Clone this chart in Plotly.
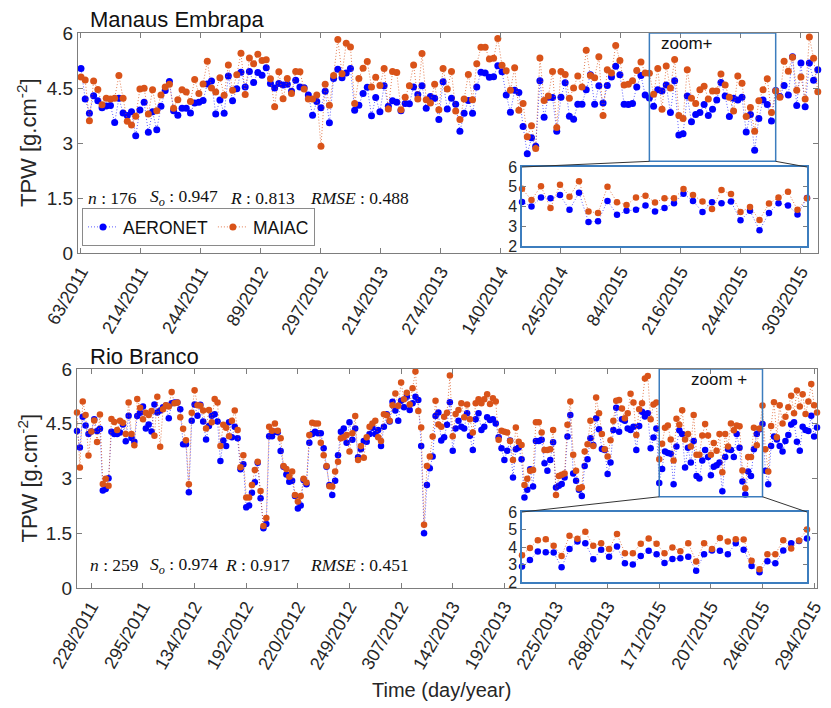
import plotly.graph_objects as go

W, H = 831, 708
BLUE = "#0000FF"
ORANGE = "#D95319"
BLUE_LINE = "rgba(40,40,255,0.75)"
ORANGE_LINE = "rgba(217,83,25,0.75)"
FRAME = "#3C7DBE"
AXIS = "#7d7d7d"
TXT = "#262626"
SANS = "Liberation Sans, Arial, sans-serif"
SERIF = "Liberation Serif, Times New Roman, serif"

# ---------------- Manaus Embrapa ----------------
manaus_ticklabels = ["63/2011", "214/2011", "244/2011", "89/2012", "297/2012",
                     "214/2013", "274/2013", "140/2014", "245/2014", "84/2015",
                     "216/2015", "244/2015", "303/2015"]
manaus_aeronet = [
    5.03, 4.20, 3.81, 4.29, 4.15, 3.96, 4.01, 4.02, 3.56, 4.22,
    3.82, 3.75, 3.85, 3.20, 3.90, 4.11, 3.29, 3.85, 3.36, 4.00,
    4.43, 4.68, 3.88, 3.76, 3.95, 3.95, 3.82, 4.09, 4.11, 4.16,
    4.61, 4.69, 3.79, 4.17, 3.81, 4.83, 4.15, 4.48, 4.93, 4.53,
    4.95, 4.65, 4.92, 4.85, 5.05, 4.62, 4.50, 4.62, 4.58, 4.60,
    4.41, 4.71, 4.53, 4.51, 4.31, 3.76, 4.13, 3.96, 4.41, 3.55,
    4.76, 5.01, 4.78, 4.91, 5.03, 3.89, 4.03, 4.35, 4.52, 3.74,
    4.24, 3.85, 4.56, 4.00, 4.15, 4.11, 3.88, 4.08, 4.07, 4.53,
    4.32, 4.56, 3.95, 4.27, 4.22, 3.64, 4.67, 3.93, 4.22, 4.06,
    3.32, 3.81, 4.16, 3.81, 4.53, 4.93, 4.91, 4.79, 4.81, 5.11,
    4.94, 4.31, 3.84, 4.44, 4.38, 3.45, 2.71, 3.14, 2.91, 4.70,
    3.70, 4.25, 4.24, 3.32, 4.25, 4.64, 3.73, 3.65, 4.06, 4.06,
    4.45, 4.86, 4.06, 4.56, 4.09, 4.57, 4.80, 5.09, 4.86, 4.06,
    4.05, 4.08, 4.53, 4.84, 4.31,
    4.23, 4.00, 4.45, 4.42, 4.58, 3.83, 4.70, 3.22, 3.25, 4.28,
    3.58, 3.78, 3.83, 4.05, 3.75, 3.92, 4.17, 4.65, 4.28, 3.72,
    4.22, 4.17, 4.25, 3.30, 3.78, 2.80, 3.67, 4.17, 4.05, 3.60,
    4.43,
    4.27, 4.57, 4.31, 5.35, 4.02, 5.18, 3.99, 5.18, 4.71, 5.00,
]
manaus_maiac = [
    4.80, 4.72, 3.61, 4.69, 4.46, 4.04, 4.22, 4.20, 4.22, 4.84,
    4.22, 3.59, 3.49, 3.73, 4.47, 4.49, 3.79, 4.45, 3.88, 4.31,
    4.53, 4.60, 3.95, 4.18, 4.45, 4.39, 4.13, 4.73, 4.35, 4.61,
    5.23, 4.50, 4.39, 4.78, 4.30, 5.13, 4.44, 4.86, 5.45, 4.32,
    5.32, 5.16, 5.42, 5.25, 5.27, 4.75, 3.99, 4.94, 4.21, 4.76,
    4.35, 4.95, 4.94, 4.47, 4.20, 4.20, 4.31, 2.91, 4.60, 4.03,
    4.84, 5.82, 4.89, 5.72, 5.62, 4.08, 4.76, 5.04, 5.22, 4.53,
    4.79, 4.57, 5.03, 3.93, 4.95, 4.92, 3.91, 4.25, 4.56, 5.13,
    4.20, 5.44, 4.18, 4.09, 4.60, 3.91, 5.03, 4.47, 4.95, 3.87,
    3.64, 4.20, 4.87, 4.18, 5.16, 5.61, 5.61, 5.29, 5.31, 5.85,
    5.12, 4.97, 4.44, 5.05, 3.89, 4.08, 3.17, 3.47, 2.85, 5.32,
    4.16, 4.28, 4.95, 3.42, 4.95, 4.87, 4.22, 4.50, 4.83, 4.53,
    5.53, 4.84, 4.78, 5.35, 3.75, 5.00, 4.91, 5.66, 5.25, 4.58,
    4.60, 4.70, 4.98, 5.21, 4.91,
    4.90, 4.33, 5.03, 3.92, 5.10, 4.50, 5.28, 3.75, 3.67, 5.00,
    4.22, 4.08, 4.45, 4.55, 4.20, 4.42, 4.42, 4.88, 4.58, 4.25,
    3.87, 4.83, 4.63, 3.72, 3.97, 3.32, 4.15, 4.45, 4.75, 3.83,
    4.42,
    4.25, 5.23, 4.96, 5.34, 4.44, 4.80, 4.20, 5.89, 5.31, 4.40,
]
manaus_zoom = (136, 166)          # first/last sample shown in the inset
manaus_stats = ("176", "0.947", "0.813", "0.488")

# ---------------- Rio Branco ----------------
rio_ticklabels = ["228/2011", "295/2011", "134/2012", "192/2012", "220/2012",
                  "249/2012", "307/2012", "142/2013", "192/2013", "225/2013",
                  "268/2013", "171/2015", "207/2015", "246/2015", "294/2015"]
rio_aeronet = [
    4.30, 3.85, 4.69, 4.45, 4.22, 4.29, 4.62, 4.30, 4.36, 2.67,
    2.71, 3.01, 4.28, 4.22, 4.22, 4.26, 4.48, 4.02, 4.72, 4.11,
    4.01, 4.71, 4.80, 4.97, 4.37, 4.48, 4.29, 5.03, 4.81, 4.86,
    4.95, 5.00, 4.65, 5.06, 5.08, 5.08, 4.90, 3.94, 3.94, 2.62,
    4.58, 5.03, 4.72, 5.02,
    4.56, 4.07, 4.44, 4.72, 4.76, 4.56, 3.48, 4.04, 3.89, 4.54,
    4.13, 4.42, 4.10, 3.25, 3.39, 2.21, 2.26, 2.61, 2.90, 3.43,
    2.46, 1.64, 1.75, 4.16, 4.16, 4.28, 4.27, 3.75, 3.32, 3.11,
    2.91, 2.94, 2.52, 2.18, 2.26, 2.96, 2.84, 3.98, 4.22, 4.28,
    4.24, 4.24, 3.83, 3.32,
    2.82, 2.55, 2.94, 3.64, 4.28, 4.37, 3.98, 4.54, 4.06, 4.37,
    3.58, 3.80, 4.03, 4.01, 4.22, 4.39, 4.22, 4.33, 3.89, 4.42,
    4.76, 4.56, 5.10, 4.86, 4.58, 5.13, 4.95, 5.24, 4.88, 5.06,
    5.24, 5.15, 3.89, 1.50, 2.82, 3.28, 3.60, 4.71, 4.81, 4.04,
    4.13, 4.47, 5.09, 3.76,
    4.37, 4.58, 4.42, 4.37, 4.79, 4.17, 3.78, 4.62, 4.79, 4.33,
    4.42, 4.68, 4.60, 4.62, 4.51, 4.13, 3.83, 3.51, 3.76, 4.04,
    3.03, 3.80, 3.85, 3.53, 2.48, 2.69, 3.25, 2.78, 4.03, 4.03,
    4.06, 3.42, 3.21, 3.51, 3.99, 2.75, 2.80, 2.85, 3.03, 4.15,
    4.74, 3.14,
    2.94, 2.69, 2.52, 3.34, 3.53, 4.10, 3.92, 4.65, 4.35, 3.81,
    3.78, 3.12, 3.44, 4.33, 4.94, 4.28, 4.62, 4.58, 4.37, 4.33,
    4.42, 3.78, 4.44, 4.83, 4.70, 4.79, 3.83, 4.12, 4.37,
    2.88, 3.26, 3.74, 3.70, 3.68, 2.84, 3.88, 4.32, 4.22, 3.30,
    3.84, 3.44, 4.03, 3.07, 3.00, 3.49, 3.78, 3.59, 3.09, 3.32,
    3.36, 3.44, 2.65, 3.59, 3.80, 3.78, 3.59, 4.22, 3.84, 2.92,
    2.56, 3.19, 3.07, 3.80, 4.22, 4.35, 4.49,
    3.21, 2.84, 3.89, 4.15, 4.07, 3.89, 3.74, 4.03, 4.19, 4.48,
    4.54, 4.01, 3.76, 4.42, 4.33, 4.30, 4.72, 4.15, 4.40,
]
rio_maiac = [
    4.81, 3.30, 5.11, 4.74, 3.63, 4.29, 4.59, 4.00, 4.75, 2.85,
    2.99, 2.80, 4.63, 4.55, 4.33, 4.58, 4.53, 4.22, 5.08, 4.22,
    3.91, 5.18, 4.94, 4.62, 4.80, 4.74, 4.85, 4.17, 5.24, 3.87,
    4.90, 5.01, 4.97, 5.37, 5.06, 5.08, 4.68, 4.36, 4.05, 2.84,
    4.80, 5.42, 5.01, 4.99,
    4.86, 4.37, 4.88, 4.54, 5.18, 5.08, 3.89, 4.47, 4.39, 4.16,
    4.58, 4.86, 4.33, 3.31, 3.64, 2.48, 2.48, 2.82, 3.23, 3.46,
    2.66, 1.70, 1.92, 4.42, 4.31, 4.51, 4.31, 4.10, 3.34, 3.26,
    3.05, 3.19, 2.55, 2.37, 2.52, 2.99, 2.89, 4.19, 4.53, 4.51,
    4.51, 3.98, 3.64, 3.34,
    2.79, 2.78, 3.19, 3.46, 4.10, 4.13, 4.19, 3.74, 4.24, 4.71,
    3.51, 3.89, 3.57, 4.13, 4.42, 4.51, 4.58, 4.13, 4.03, 4.76,
    4.73, 4.58, 5.01, 5.33, 4.99, 5.63, 5.17, 5.35, 5.03, 5.47,
    5.93, 4.85, 4.40, 1.73, 3.34, 3.60, 4.15, 5.13, 4.48, 4.42,
    4.69, 4.80, 5.82, 4.16,
    4.77, 4.88, 5.06, 4.68, 5.03, 4.62, 4.26, 5.06, 5.17, 5.06,
    5.17, 5.31, 5.04, 5.20, 5.11, 4.06, 4.31, 4.28, 4.26, 4.03,
    3.51, 4.40, 4.01, 3.92, 2.82, 2.99, 3.21, 3.23, 4.54, 4.54,
    4.26, 3.78, 3.78, 3.80, 4.33, 2.55, 3.07, 3.10, 3.14, 4.47,
    5.11, 3.65,
    3.21, 2.73, 2.76, 3.74, 3.94, 4.58, 3.89, 5.22, 4.79, 4.22,
    3.80, 3.60, 4.05, 4.58, 5.13, 5.15, 4.92, 4.65, 4.79, 5.32,
    5.08, 4.19, 4.90, 5.06, 5.74, 5.81, 4.62, 5.03, 5.08,
    3.53, 3.95, 4.39, 4.45, 4.07, 3.49, 4.64, 4.47, 4.87, 4.07,
    4.22, 3.88, 4.74, 3.65, 3.65, 4.18, 4.49, 4.18, 3.65, 3.97,
    3.76, 4.22, 3.17, 4.22, 3.88, 4.51, 4.32, 4.45, 4.43, 3.22,
    2.73, 3.59, 3.59, 4.39, 3.91, 4.37, 5.00,
    3.80, 3.19, 4.44, 5.09, 4.13, 5.01, 4.51, 4.69, 4.95, 5.27,
    4.79, 5.41, 4.97, 5.31, 4.77, 5.11, 5.59, 5.01, 4.81,
]
rio_zoom = (204, 240)
rio_stats = ("259", "0.974", "0.917", "0.451")

# ---------------- layout geometry (pixels) ----------------
panels = [
    dict(name="Manaus Embrapa", aer=manaus_aeronet, mai=manaus_maiac,
         zoom=manaus_zoom, labels=manaus_ticklabels, stats=manaus_stats,
         main=(78, 818, 33, 253), inset=(522, 807, 167, 246),
         xrange=[0.29, 176.05], tick0=1.0, dtick=14.25,
         zoomtext="zoom+", zoompos=(659, 43), stat_y=198,
         stat_x=(86, 148, 228, 308), msize=7),
    dict(name="Rio Branco", aer=rio_aeronet, mai=rio_maiac,
         zoom=rio_zoom, labels=rio_ticklabels, stats=rio_stats,
         main=(77, 817, 369, 588), inset=(522, 807, 512, 582),
         xrange=[1, 259], tick0=6.0, dtick=18.0,
         zoomtext="zoom +", zoompos=(689, 379), stat_y=565,
         stat_x=(88, 148, 223, 308), msize=6.5),
]


def xdom(box):
    return [box[0] / W, box[1] / W]


def ydom(box):
    return [1 - box[3] / H, 1 - box[2] / H]


def to_paper(v, rng, dom):
    return dom[0] + (v - rng[0]) / (rng[1] - rng[0]) * (dom[1] - dom[0])


fig = go.Figure()
layout = dict(
    width=W, height=H, autosize=False,
    margin=dict(l=0, r=0, t=0, b=0, autoexpand=False),
    paper_bgcolor="white", plot_bgcolor="white",
    font=dict(family=SANS, color=TXT),
    showlegend=True,
    legend=dict(orientation="h", x=82 / W, y=1 - 208 / H,
                xanchor="left", yanchor="top",
                bgcolor="white", bordercolor="#8a8a8a", borderwidth=1,
                font=dict(family=SANS, size=17.5, color="#111"),
                itemwidth=30, tracegroupgap=0),
)
shapes, annotations = [], []

for k, p in enumerate(panels):
    ax_main = 2 * k + 1
    ax_ins = 2 * k + 2
    xm, ym = f"x{ax_main}", f"y{ax_main}"
    xi, yi = f"x{ax_ins}", f"y{ax_ins}"
    n = len(p["aer"])
    idx = list(range(1, n + 1))
    z0, z1 = p["zoom"]
    zidx = list(range(z0, z1 + 1))

    for vals, color, lcolor, label in ((p["aer"], BLUE, BLUE_LINE, "AERONET"),
                                       (p["mai"], ORANGE, ORANGE_LINE, "MAIAC")):
        fig.add_trace(go.Scatter(
            x=idx, y=vals, xaxis=xm, yaxis=ym, mode="lines+markers",
            name=label, showlegend=(k == 0), cliponaxis=False,
            line=dict(color=lcolor, width=1, dash="1px,2px"),
            marker=dict(color=color, size=p["msize"], line=dict(width=0)),
        ))
        fig.add_trace(go.Scatter(
            x=zidx, y=vals[z0 - 1:z1], xaxis=xi, yaxis=yi, mode="lines+markers",
            name=label, showlegend=False, cliponaxis=False,
            line=dict(color=lcolor, width=1, dash="1px,2px"),
            marker=dict(color=color, size=6.5, line=dict(width=0)),
        ))

    mdx, mdy = xdom(p["main"]), ydom(p["main"])
    idx_dom, idy_dom = xdom(p["inset"]), ydom(p["inset"])
    tickvals = [p["tick0"] + j * p["dtick"] for j in range(len(p["labels"]))]

    key = "" if ax_main == 1 else str(ax_main)
    layout["xaxis" + key] = dict(
        domain=mdx, range=p["xrange"], anchor=ym, automargin=False,
        tickvals=tickvals, ticktext=p["labels"], tickangle=-60,
        ticks="inside", ticklen=5, tickcolor=AXIS,
        showline=True, linecolor=AXIS, linewidth=1, mirror="ticks",
        showgrid=False, zeroline=False,
        tickfont=dict(family=SANS, size=18, color=TXT),
    )
    layout["yaxis" + key] = dict(
        domain=mdy, range=[0, 6], anchor=xm, automargin=False,
        tickvals=[0, 1.5, 3, 4.5, 6], ticktext=["0", "1.5", "3", "4.5", "6"],
        ticks="inside", ticklen=5, tickcolor=AXIS,
        showline=True, linecolor=AXIS, linewidth=1, mirror="ticks",
        showgrid=False, zeroline=False,
        tickfont=dict(family=SANS, size=19, color=TXT),
    )
    layout[f"xaxis{ax_ins}"] = dict(
        domain=idx_dom, range=[z0, z1], anchor=yi, automargin=False,
        showticklabels=False, ticks="",
        showline=True, linecolor=FRAME, linewidth=1.5, mirror=True,
        showgrid=False, zeroline=False,
    )
    layout[f"yaxis{ax_ins}"] = dict(
        domain=idy_dom, range=[2, 6], anchor=xi, automargin=False,
        tickvals=[2, 3, 4, 5, 6], ticks="inside", ticklen=4, tickcolor=AXIS,
        showline=True, linecolor=FRAME, linewidth=1.5, mirror="ticks",
        showgrid=False, zeroline=False,
        tickfont=dict(family=SANS, size=16, color=TXT),
    )

    # zoom box on the main axes
    shapes.append(dict(type="rect", xref=xm, yref=ym, x0=z0, x1=z1, y0=2.5, y1=6,
                       line=dict(color=FRAME, width=1.5), fillcolor="rgba(0,0,0,0)"))
    # connectors from the zoom box to the inset
    by = to_paper(2.5, [0, 6], mdy)
    for zx, ix in ((z0, idx_dom[0]), (z1, idx_dom[1])):
        shapes.append(dict(type="line", xref="paper", yref="paper",
                           x0=to_paper(zx, p["xrange"], mdx), y0=by,
                           x1=ix, y1=idy_dom[1],
                           line=dict(color="#333333", width=1)))

    # panel title
    annotations.append(dict(text=p["name"], xref="paper", yref="paper",
                            x=88 / W, y=1 - (p["main"][2] - 13) / H,
                            xanchor="left", yanchor="middle", showarrow=False,
                            font=dict(family=SANS, size=22, color="#111")))
    # y-axis title
    annotations.append(dict(text="TPW [g.cm<sup>-2</sup>]", xref="paper", yref="paper",
                            x=27 / W, y=(mdy[0] + mdy[1]) / 2, textangle=-90,
                            xanchor="center", yanchor="middle", showarrow=False,
                            font=dict(family=SANS, size=22, color=TXT)))
    # zoom label
    annotations.append(dict(text=p["zoomtext"], xref="paper", yref="paper",
                            x=p["zoompos"][0] / W, y=1 - p["zoompos"][1] / H,
                            xanchor="left", yanchor="middle", showarrow=False,
                            font=dict(family=SANS, size=17, color="#111")))
    # statistics
    nval, so, r, rmse = p["stats"]
    pieces = [f"<i>n</i> : {nval}",
              f"<i>S</i><sub><i>o</i></sub> : {so}",
              f"<i>R</i> : {r}",
              f"<i>RMSE</i> : {rmse}"]
    for txt, sx in zip(pieces, p["stat_x"]):
        annotations.append(dict(text=txt, xref="paper", yref="paper",
                                x=sx / W, y=1 - p["stat_y"] / H,
                                xanchor="left", yanchor="middle", showarrow=False,
                                font=dict(family=SERIF, size=17.5, color="#111")))

annotations.append(dict(text="Time (day/year)", xref="paper", yref="paper",
                        x=441 / W, y=1 - 690 / H, xanchor="center", yanchor="middle",
                        showarrow=False, font=dict(family=SANS, size=20, color=TXT)))

layout["shapes"] = shapes
layout["annotations"] = annotations
fig.update_layout(**layout)
fig.write_html("out.html")
